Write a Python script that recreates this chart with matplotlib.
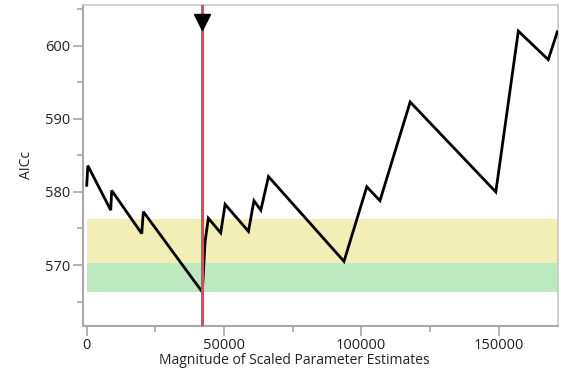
import matplotlib
matplotlib.use("Agg")
import matplotlib.pyplot as plt
from matplotlib.ticker import MultipleLocator

# Solution path: AICc against magnitude of scaled parameter estimates
magnitude = [0, 400, 8740, 9100, 20030, 20620, 42100, 43100, 44300, 48800,
             50400, 58900, 60900, 63400, 66200, 93700, 102000, 106800,
             117800, 149000, 157200, 168100, 171400]
aicc = [580.9, 583.6, 577.5, 580.2, 574.3, 577.3, 566.3, 573.2, 576.4, 574.4,
        578.3, 574.6, 578.8, 577.5, 582.1, 570.5, 580.7, 578.8,
        592.3, 580.0, 602.0, 598.1, 601.9]

best_x = 42100
best_aicc = 566.3
green_width = 4
yellow_width = 10

x_ticks = [0, 50000, 100000, 150000]
y_ticks = [570, 580, 590, 600]

plt.rcParams['font.family'] = ['Open Sans', 'DejaVu Sans']

fig = plt.figure(figsize=(5.61, 3.76), dpi=100)
ax = fig.add_axes([0.148, 0.133, 0.8472, 0.8537])

xmax = 171760
ax.set_xlim(-1350, xmax)
ax.set_ylim(561.66, 605.57)

# Bands of near-best models
ax.fill_between([0, xmax], best_aicc, best_aicc + green_width,
                color='#bde9c0', lw=0, zorder=1)
ax.fill_between([0, xmax], best_aicc + green_width, best_aicc + yellow_width,
                color='#f2efb6', lw=0, zorder=1)

ax.plot(magnitude, aicc, color='black', lw=2.0, zorder=3,
        solid_joinstyle='miter')

ax.axvline(best_x, color='#f0405a', lw=2.2, zorder=4)
ax.plot([best_x], [603.25], marker='v', color='black', markersize=11,
        zorder=5, clip_on=False)

ax.set_xticks(x_ticks)
ax.set_yticks(y_ticks)
ax.xaxis.set_minor_locator(MultipleLocator(25000))
ax.yaxis.set_minor_locator(MultipleLocator(5))
ax.set_xticklabels([str(v) for v in x_ticks])

for side in ['left', 'bottom']:
    ax.spines[side].set_color('#a8a8a8')
    ax.spines[side].set_linewidth(1.5)
for side in ['top', 'right']:
    ax.spines[side].set_color('#c8c8c8')
    ax.spines[side].set_linewidth(1.2)

ax.tick_params(axis='both', which='major', length=7, width=1.2,
               color='#a8a8a8', labelsize=10.5, labelcolor='#222222', pad=2)
ax.tick_params(axis='both', which='minor', length=4, width=1.2,
               color='#a8a8a8')

ax.set_xlabel('Magnitude of Scaled Parameter Estimates', fontsize=10,
              color='#222222', labelpad=1)
ax.xaxis.set_label_coords(0.444, -0.085)
ax.set_ylabel('AICc', fontsize=10, color='#222222')
ax.yaxis.set_label_coords(-0.104, 0.5)

fig.savefig('out.png', dpi=100)
